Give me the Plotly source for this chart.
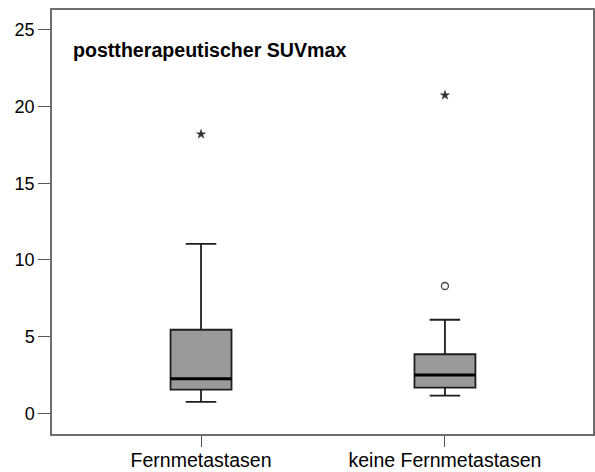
import plotly.graph_objects as go

# Data
categories = ["Fernmetastasen", "keine Fernmetastasen"]
q1_vals = [1.55, 1.68]
median_vals = [2.25, 2.5]
q3_vals = [5.45, 3.85]
lower_whisker = [0.75, 1.15]
upper_whisker = [11.05, 6.1]
extreme_x = ["Fernmetastasen", "keine Fernmetastasen"]
extreme_y = [18.2, 20.75]
outlier_x = ["keine Fernmetastasen"]
outlier_y = [8.3]
y_ticks = [0, 5, 10, 15, 20, 25]
title_text = "posttherapeutischer SUVmax"

FONT = "Liberation Sans, Arial, sans-serif"

fig = go.Figure()

# Boxes
fig.add_trace(go.Box(
    x=categories,
    q1=q1_vals, median=median_vals, q3=q3_vals,
    lowerfence=lower_whisker, upperfence=upper_whisker,
    width=0.25, whiskerwidth=0.5,
    fillcolor="#9a9a9a",
    line=dict(color="#1e1e1e", width=1.8),
    boxpoints=False, hoverinfo="skip", showlegend=False,
))

# Thicker median lines (flat boxes at the median)
fig.add_trace(go.Box(
    x=categories,
    q1=median_vals, median=median_vals, q3=median_vals,
    lowerfence=median_vals, upperfence=median_vals,
    width=0.25, whiskerwidth=0,
    fillcolor="rgba(0,0,0,0)",
    line=dict(color="#000000", width=3),
    boxpoints=False, hoverinfo="skip", showlegend=False,
))

# Extreme values (stars)
fig.add_trace(go.Scatter(
    x=extreme_x, y=extreme_y, mode="markers",
    marker=dict(symbol="star", size=8, color="#333333"),
    hoverinfo="skip", showlegend=False,
))

# Outliers (circles)
fig.add_trace(go.Scatter(
    x=outlier_x, y=outlier_y, mode="markers",
    marker=dict(symbol="circle-open", size=7, color="#444444", line=dict(width=1.3)),
    hoverinfo="skip", showlegend=False,
))

fig.add_annotation(
    text="<b>" + title_text + "</b>",
    xref="paper", yref="paper", x=0.036, y=0.906,
    xanchor="left", yanchor="middle", showarrow=False,
    font=dict(family=FONT, size=19.6, color="#000000"),
)

fig.update_layout(
    width=595, height=472,
    margin=dict(l=52, r=2, t=10, b=38),
    paper_bgcolor="white", plot_bgcolor="white",
    font=dict(family=FONT, color="#000000"),
)

fig.update_xaxes(
    type="category", categoryorder="array", categoryarray=categories,
    range=[-0.611, 1.607], automargin=False,
    showline=True, mirror=True, linecolor="#6e6e6e", linewidth=1.5,
    ticks="outside", ticklen=11, tickwidth=1.2, tickcolor="#555555",
    ticklabelstandoff=-3,
    showgrid=False, zeroline=False,
    tickfont=dict(family=FONT, size=19.5, color="#000000"),
)
fig.update_yaxes(
    range=[-1.35, 26.3], automargin=False,
    tickvals=y_ticks, ticktext=[str(v) for v in y_ticks],
    showline=True, mirror=True, linecolor="#6e6e6e", linewidth=1.5,
    ticks="outside", ticklen=12, tickwidth=1.2, tickcolor="#555555",
    showgrid=False, zeroline=False,
    tickfont=dict(family=FONT, size=18, color="#000000"),
)

fig.write_html(
    "out.html",
    config={"displayModeBar": False},
    post_script="document.body.style.margin='0';document.body.style.overflow='hidden';",
)
